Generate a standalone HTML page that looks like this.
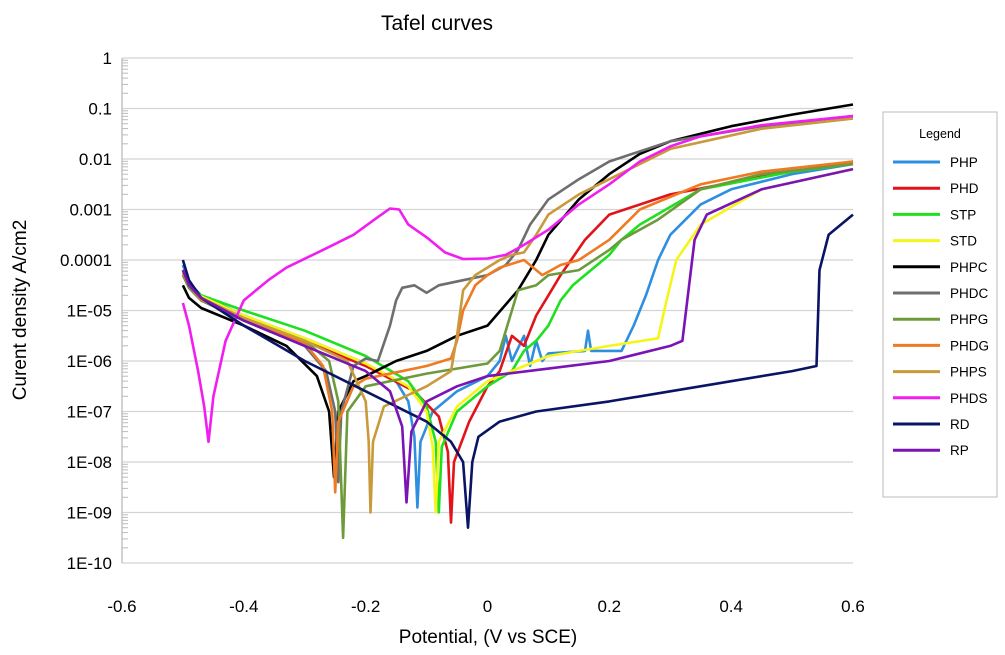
<!DOCTYPE html>
<html><head><meta charset="utf-8"><style>
body{margin:0;background:#fff;}
svg{display:block;font-family:"Liberation Sans",sans-serif;}
</style></head><body>
<svg id="c" width="1005" height="655">
<text x="437" y="30" font-size="21" text-anchor="middle" fill="#000">Tafel curves</text>
<g id="grid"></g>
<g id="yt"></g>
<g id="xt"></g>
<g id="series"></g>
<text x="488" y="643" font-size="19" text-anchor="middle">Potential, (V vs SCE)</text>
<text transform="translate(26,310) rotate(-90)" font-size="19" text-anchor="middle">Curent density A/cm2</text>
<g id="legend">
<rect x="883" y="112" width="114" height="385" fill="#fff" stroke="#bbb"/>
<text x="940" y="138" font-size="12.5" text-anchor="middle">Legend</text>
</g>
</svg>
<script>
const xTicks=[-0.6,-0.4,-0.2,0,0.2,0.4,0.6];
const xTickLabels=["-0.6","-0.4","-0.2","0","0.2","0.4","0.6"];
const yDecades=[0,-1,-2,-3,-4,-5,-6,-7,-8,-9,-10];
const yTickLabels=["1","0.1","0.01","0.001","0.0001","1E-05","1E-06","1E-07","1E-08","1E-09","1E-10"];
const seriesNames=["PHP","PHD","STP","STD","PHPC","PHDC","PHPG","PHDG","PHPS","PHDS","RD","RP"];
const seriesColors=["#2e8fe0","#e0141a","#1ee01e","#f5f51a","#000000","#6e6e6e","#6e9a3c","#f07a22","#c89a3c","#f01ef0","#0a1464","#7a14b4"];
const PHP=[[-0.5,-4.1],[-0.49,-4.45],[-0.47,-4.7],[-0.4,-5.1],[-0.3,-5.55],[-0.2,-6.05],[-0.15,-6.4],[-0.13,-6.8],[-0.12,-7.5],[-0.115,-8.9],[-0.11,-7.6],[-0.09,-7.0],[-0.05,-6.6],[0,-6.3],[0.02,-6.0],[0.03,-5.5],[0.04,-6.0],[0.06,-5.5],[0.07,-6.1],[0.08,-5.6],[0.09,-6.0],[0.1,-5.85],[0.16,-5.8],[0.165,-5.4],[0.17,-5.8],[0.22,-5.8],[0.24,-5.3],[0.26,-4.7],[0.28,-4.0],[0.3,-3.5],[0.35,-2.9],[0.4,-2.6],[0.5,-2.3],[0.6,-2.1]];
const PHD=[[-0.5,-4.2],[-0.49,-4.5],[-0.47,-4.75],[-0.4,-5.15],[-0.3,-5.6],[-0.2,-6.1],[-0.12,-6.6],[-0.08,-7.1],[-0.065,-7.8],[-0.06,-9.2],[-0.055,-8.0],[-0.03,-7.2],[0,-6.5],[0.02,-6.2],[0.04,-5.5],[0.06,-5.7],[0.08,-5.1],[0.1,-4.7],[0.12,-4.3],[0.16,-3.6],[0.2,-3.1],[0.3,-2.7],[0.45,-2.35],[0.6,-2.05]];
const STP=[[-0.5,-4.2],[-0.49,-4.5],[-0.47,-4.7],[-0.4,-5.0],[-0.3,-5.4],[-0.2,-5.9],[-0.13,-6.4],[-0.1,-6.9],[-0.085,-7.6],[-0.08,-9.0],[-0.075,-7.7],[-0.05,-7.0],[0,-6.5],[0.04,-6.2],[0.06,-5.8],[0.08,-5.6],[0.1,-5.3],[0.12,-4.8],[0.14,-4.5],[0.2,-3.9],[0.22,-3.6],[0.25,-3.3],[0.35,-2.6],[0.5,-2.25],[0.6,-2.1]];
const STD=[[-0.5,-4.2],[-0.49,-4.5],[-0.47,-4.72],[-0.4,-5.1],[-0.3,-5.55],[-0.2,-6.05],[-0.13,-6.5],[-0.1,-7.0],[-0.09,-7.7],[-0.085,-9.0],[-0.08,-7.6],[-0.05,-6.9],[0,-6.4],[0.1,-5.9],[0.2,-5.7],[0.28,-5.55],[0.29,-5.0],[0.31,-4.0],[0.35,-3.3],[0.45,-2.6],[0.6,-2.2]];
const PHPC=[[-0.5,-4.5],[-0.49,-4.75],[-0.47,-4.95],[-0.4,-5.3],[-0.33,-5.7],[-0.28,-6.3],[-0.26,-7.0],[-0.252,-8.3],[-0.245,-7.0],[-0.22,-6.4],[-0.2,-6.3],[-0.15,-6.0],[-0.1,-5.8],[-0.05,-5.5],[0,-5.3],[0.05,-4.6],[0.08,-4.0],[0.1,-3.5],[0.15,-2.8],[0.2,-2.3],[0.25,-1.9],[0.3,-1.65],[0.4,-1.35],[0.5,-1.12],[0.6,-0.92]];
const PHDC=[[-0.5,-4.3],[-0.49,-4.55],[-0.47,-4.8],[-0.4,-5.2],[-0.3,-5.7],[-0.265,-6.2],[-0.25,-7.0],[-0.245,-8.4],[-0.24,-7.0],[-0.22,-6.1],[-0.2,-5.95],[-0.18,-6.0],[-0.16,-5.3],[-0.15,-4.8],[-0.14,-4.55],[-0.12,-4.5],[-0.1,-4.65],[-0.08,-4.5],[-0.04,-4.4],[0,-4.3],[0.03,-4.1],[0.05,-3.8],[0.07,-3.3],[0.1,-2.8],[0.15,-2.4],[0.2,-2.05],[0.3,-1.65],[0.45,-1.35],[0.6,-1.15]];
const PHPG=[[-0.5,-4.3],[-0.49,-4.55],[-0.47,-4.8],[-0.4,-5.15],[-0.3,-5.6],[-0.26,-6.0],[-0.245,-6.8],[-0.237,-9.5],[-0.23,-7.0],[-0.2,-6.5],[-0.1,-6.25],[0,-6.05],[0.02,-5.8],[0.04,-5.0],[0.05,-4.6],[0.08,-4.5],[0.1,-4.3],[0.15,-4.2],[0.2,-3.8],[0.22,-3.6],[0.28,-3.2],[0.35,-2.6],[0.45,-2.3],[0.6,-2.1]];
const PHDG=[[-0.5,-4.25],[-0.49,-4.5],[-0.47,-4.78],[-0.4,-5.15],[-0.3,-5.65],[-0.27,-6.1],[-0.255,-7.0],[-0.25,-8.6],[-0.245,-7.2],[-0.22,-6.5],[-0.2,-6.35],[-0.1,-6.1],[-0.06,-5.95],[-0.05,-5.6],[-0.04,-5.0],[-0.02,-4.5],[0,-4.3],[0.02,-4.15],[0.06,-4.0],[0.09,-4.3],[0.12,-4.1],[0.15,-4.0],[0.2,-3.6],[0.25,-3.0],[0.35,-2.5],[0.45,-2.25],[0.6,-2.05]];
const PHPS=[[-0.5,-4.2],[-0.49,-4.5],[-0.47,-4.75],[-0.4,-5.15],[-0.3,-5.6],[-0.23,-6.0],[-0.2,-6.8],[-0.195,-7.6],[-0.192,-9.0],[-0.188,-7.6],[-0.17,-6.9],[-0.1,-6.5],[-0.06,-6.2],[-0.05,-5.5],[-0.04,-4.6],[-0.02,-4.3],[0.02,-4.0],[0.04,-3.9],[0.06,-3.85],[0.08,-3.5],[0.1,-3.1],[0.15,-2.7],[0.2,-2.4],[0.3,-1.8],[0.45,-1.4],[0.6,-1.2]];
const PHDS=[[-0.5,-4.85],[-0.49,-5.3],[-0.475,-6.2],[-0.465,-6.9],[-0.458,-7.6],[-0.45,-6.7],[-0.43,-5.6],[-0.4,-4.8],[-0.36,-4.4],[-0.33,-4.15],[-0.27,-3.8],[-0.22,-3.5],[-0.18,-3.15],[-0.16,-2.98],[-0.145,-3.0],[-0.13,-3.3],[-0.1,-3.55],[-0.07,-3.85],[-0.04,-3.98],[0,-3.97],[0.03,-3.9],[0.06,-3.7],[0.1,-3.4],[0.15,-2.9],[0.2,-2.5],[0.25,-2.05],[0.3,-1.75],[0.35,-1.55],[0.45,-1.33],[0.6,-1.15]];
const RD=[[-0.5,-4.0],[-0.49,-4.4],[-0.47,-4.75],[-0.4,-5.3],[-0.3,-6.0],[-0.2,-6.6],[-0.1,-7.2],[-0.06,-7.6],[-0.04,-8.0],[-0.032,-9.3],[-0.025,-8.0],[-0.015,-7.5],[0.02,-7.2],[0.08,-7.0],[0.2,-6.8],[0.3,-6.6],[0.4,-6.4],[0.5,-6.2],[0.54,-6.1],[0.545,-4.2],[0.56,-3.5],[0.6,-3.1]];
const RP=[[-0.5,-4.2],[-0.49,-4.5],[-0.47,-4.75],[-0.4,-5.2],[-0.3,-5.7],[-0.2,-6.2],[-0.16,-6.6],[-0.14,-7.3],[-0.133,-8.8],[-0.125,-7.4],[-0.1,-6.8],[-0.05,-6.5],[0,-6.3],[0.1,-6.15],[0.2,-6.0],[0.3,-5.7],[0.32,-5.6],[0.33,-4.6],[0.34,-3.6],[0.36,-3.1],[0.45,-2.6],[0.6,-2.2]];
const seriesData=[PHP,PHD,STP,STD,PHPC,PHDC,PHPG,PHDG,PHPS,PHDS,RD,RP];

const NS="http://www.w3.org/2000/svg";
const X0=122,X1=853,Y0=58,DEC=50.5;
function xs(v){return X0+(v+0.6)/1.2*(X1-X0);}
function ys(l){return Y0-l*DEC;}
function mk(tag,attrs,parent){const e=document.createElementNS(NS,tag);for(const k in attrs)e.setAttribute(k,attrs[k]);parent.appendChild(e);return e;}
const grid=document.getElementById('grid'),yt=document.getElementById('yt'),xt=document.getElementById('xt'),sg=document.getElementById('series'),lg=document.getElementById('legend');
yDecades.forEach((d,i)=>{
  const l=mk('line',{x1:X0,x2:X1,y1:ys(d),y2:ys(d),stroke:'#d4d4d4','stroke-width':1.3},grid);
  
  
  const t=mk('text',{x:X0-10,y:ys(d)+6,'font-size':17,'text-anchor':'end'},yt);
  t.textContent=yTickLabels[i];
  
  
  if(d>-10){for(let m=2;m<10;m++){const yy=ys(d-1+Math.log10(m));const mt=mk('line',{x1:X0,x2:X0+6,y1:yy,y2:yy,stroke:'#bbb','stroke-width':1},yt);
    
    }}
});
const ax=mk('line',{x1:X0,x2:X0,y1:Y0,y2:ys(-10),stroke:'#bbb','stroke-width':1.3},grid);


xTicks.forEach((v,i)=>{
  const t=mk('text',{x:xs(v),y:612,'font-size':17,'text-anchor':'middle'},xt);
  t.textContent=xTickLabels[i];
  
  
});
seriesData.forEach((pts,i)=>{
  const d=pts.map((p,j)=>(j?'L':'M')+xs(p[0]).toFixed(1)+' '+ys(p[1]).toFixed(1)).join(' ');
  const p=mk('path',{d:d,fill:'none',stroke:seriesColors[i],'stroke-width':2.6,'stroke-linejoin':'round'},sg);
  
  
  const yy=162+i*26.2;
  const ll=mk('line',{x1:893,x2:940,y1:yy,y2:yy,stroke:seriesColors[i],'stroke-width':3},lg);
  
  
  const lt=mk('text',{x:950,y:yy+5,'font-size':13.5},lg);
  lt.textContent=seriesNames[i];
  
  
});
</script>
</body></html>
